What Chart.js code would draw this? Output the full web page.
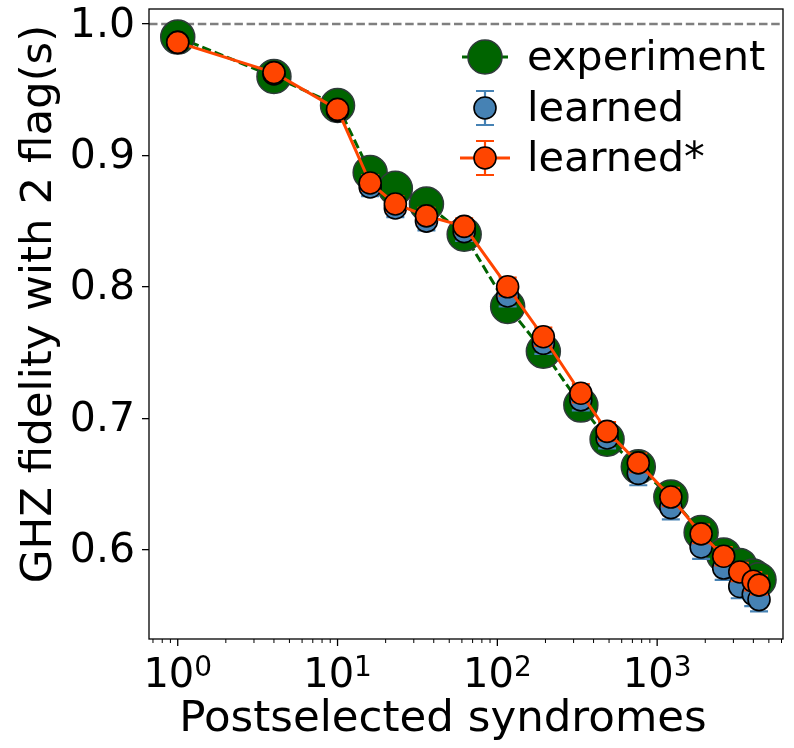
<!DOCTYPE html>
<html>
<head>
<meta charset="utf-8">
<script src="https://cdn.jsdelivr.net/npm/chart.js@4/dist/chart.umd.min.js"></script>
<style>
  html, body { margin: 0; padding: 0; background: #fff; }
  #wrap { width: 794px; height: 748px; }
</style>
</head>
<body>
<div id="wrap"><canvas id="chart" width="794" height="748"></canvas></div>
<script>
// values
const syndromes = [1, 4, 10, 16, 23, 36, 62, 116, 194, 333, 486, 762, 1218, 1884, 2608, 3288, 3992, 4340];
const experiment = [0.990, 0.960, 0.938, 0.887, 0.875, 0.863, 0.840, 0.785, 0.751, 0.710, 0.684, 0.663, 0.640, 0.613, 0.596, 0.588, 0.580, 0.577];
const learned = [0.986, 0.962, 0.934, 0.876, 0.860, 0.850, 0.842, 0.793, 0.757, 0.714, 0.685, 0.658, 0.632, 0.602, 0.586, 0.572, 0.566, 0.562];
const learnedErr = [0.004, 0.004, 0.005, 0.007, 0.007, 0.007, 0.007, 0.008, 0.008, 0.008, 0.008, 0.009, 0.009, 0.009, 0.009, 0.009, 0.009, 0.009];
const learnedStar = [0.986, 0.963, 0.935, 0.879, 0.863, 0.854, 0.846, 0.800, 0.762, 0.719, 0.690, 0.666, 0.640, 0.612, 0.595, 0.583, 0.576, 0.573];
const learnedStarErr = [0.004, 0.004, 0.005, 0.006, 0.006, 0.006, 0.006, 0.007, 0.007, 0.007, 0.007, 0.007, 0.007, 0.007, 0.007, 0.007, 0.007, 0.007];
const yTicks = [0.6, 0.7, 0.8, 0.9, 1.0];
const xDecades = [1, 10, 100, 1000];
const xMin = 0.661, xMax = 6130;
const yMin = 0.532, yMax = 1.0114;
const refLevel = 1.0;

const FONT = 'DejaVu Sans';
const GREEN = '#006400', BLUE = '#4682b4', ORANGE = '#ff4500';

const pts = ys => syndromes.map((x, i) => ({ x: x, y: ys[i] }));

// error bars, drawn just before the markers of their dataset
const errorBars = {
  id: 'errorBars',
  beforeDatasetDraw(chart, args) {
    const ds = chart.data.datasets[args.index];
    if (!ds.errors) return;
    const { ctx, scales: { x, y } } = chart;
    ctx.save();
    ctx.strokeStyle = ds.errorColor;
    ctx.lineWidth = 2.2;
    ds.data.forEach((p, i) => {
      const px = x.getPixelForValue(p.x);
      const lo = y.getPixelForValue(p.y - ds.errors[i]);
      const hi = y.getPixelForValue(p.y + ds.errors[i]);
      ctx.beginPath();
      ctx.moveTo(px, lo); ctx.lineTo(px, hi);
      ctx.moveTo(px - 9, lo); ctx.lineTo(px + 9, lo);
      ctx.moveTo(px - 9, hi); ctx.lineTo(px + 9, hi);
      ctx.stroke();
    });
    ctx.restore();
  }
};

function circle(ctx, x, y, r, fill, stroke, lw) {
  ctx.beginPath();
  ctx.arc(x, y, r, 0, Math.PI * 2);
  ctx.fillStyle = fill; ctx.fill();
  ctx.lineWidth = lw; ctx.strokeStyle = stroke; ctx.stroke();
}

// frame, log ticks with 10^n labels, axis titles, legend
const decorations = {
  id: 'decorations',
  afterDraw(chart) {
    const { ctx, chartArea: a, scales: { x } } = chart;
    ctx.save();
    ctx.strokeStyle = '#000';
    ctx.lineWidth = 1.3;
    ctx.strokeRect(a.left, a.top, a.right - a.left, a.bottom - a.top);

    // x ticks
    for (let d = -1; d <= 3; d++) {
      for (let k = 1; k <= 9; k++) {
        const v = k * Math.pow(10, d);
        if (v < xMin || v > xMax) continue;
        const px = x.getPixelForValue(v);
        ctx.beginPath();
        ctx.lineWidth = k === 1 ? 1.3 : 1;
        ctx.moveTo(px, a.bottom);
        ctx.lineTo(px, a.bottom + (k === 1 ? 7 : 4));
        ctx.stroke();
      }
    }
    ctx.fillStyle = '#000';
    ctx.textBaseline = 'alphabetic';
    ctx.textAlign = 'left';
    xDecades.forEach(v => {
      const px = x.getPixelForValue(v);
      const exp = String(Math.round(Math.log10(v)));
      ctx.font = '40px "' + FONT + '"';
      const w1 = ctx.measureText('10').width;
      ctx.font = '28px "' + FONT + '"';
      const w2 = ctx.measureText(exp).width;
      const x0 = px - (w1 + w2) / 2;
      ctx.font = '40px "' + FONT + '"';
      ctx.fillText('10', x0, 687);
      ctx.font = '28px "' + FONT + '"';
      ctx.fillText(exp, x0 + w1, 676);
    });

    // axis titles
    ctx.font = '43.5px "' + FONT + '"';
    ctx.textAlign = 'center';
    ctx.fillText('Postselected syndromes', 443, 731);
    ctx.save();
    ctx.translate(51, 304);
    ctx.rotate(-Math.PI / 2);
    ctx.fillText('GHZ fidelity with 2 flag(s)', 0, 0);
    ctx.restore();

    // legend
    const mx = a.right - 298;
    const rows = [a.top + 48, a.top + 99, a.top + 149];
    ctx.lineCap = 'butt';
    // experiment
    ctx.setLineDash([9.25, 4]);
    ctx.strokeStyle = GREEN; ctx.lineWidth = 3;
    ctx.beginPath(); ctx.moveTo(mx - 23, rows[0]); ctx.lineTo(mx + 23, rows[0]); ctx.stroke();
    ctx.setLineDash([]);
    circle(ctx, mx, rows[0], 17, GREEN, '#2f3a3a', 1.5);
    // learned
    ctx.strokeStyle = BLUE; ctx.lineWidth = 2.2;
    ctx.beginPath();
    ctx.moveTo(mx, rows[1] - 17); ctx.lineTo(mx, rows[1] + 17);
    ctx.moveTo(mx - 9, rows[1] - 17); ctx.lineTo(mx + 9, rows[1] - 17);
    ctx.moveTo(mx - 9, rows[1] + 17); ctx.lineTo(mx + 9, rows[1] + 17);
    ctx.stroke();
    circle(ctx, mx, rows[1], 11, BLUE, '#000', 1.6);
    // learned*
    ctx.strokeStyle = ORANGE; ctx.lineWidth = 3;
    ctx.beginPath(); ctx.moveTo(mx - 25, rows[2]); ctx.lineTo(mx + 25, rows[2]); ctx.stroke();
    ctx.lineWidth = 2.2;
    ctx.beginPath();
    ctx.moveTo(mx, rows[2] - 17); ctx.lineTo(mx, rows[2] + 17);
    ctx.moveTo(mx - 9, rows[2] - 17); ctx.lineTo(mx + 9, rows[2] - 17);
    ctx.moveTo(mx - 9, rows[2] + 17); ctx.lineTo(mx + 9, rows[2] + 17);
    ctx.stroke();
    circle(ctx, mx, rows[2], 11, ORANGE, '#000', 1.6);

    ctx.fillStyle = '#000';
    ctx.textAlign = 'left';
    ctx.font = '41.5px "' + FONT + '"';
    ['experiment', 'learned', 'learned*'].forEach((t, i) => ctx.fillText(t, a.right - 256, rows[i] + 13));
    ctx.restore();
  }
};

new Chart(document.getElementById('chart'), {
  type: 'scatter',
  data: {
    datasets: [
      { label: 'ref', data: [{ x: xMin, y: refLevel }, { x: xMax, y: refLevel }], showLine: true,
        borderColor: '#7f7f7f', borderWidth: 2.6, borderDash: [8.5, 3.7], pointRadius: 0, order: 4 },
      { label: 'experiment', data: pts(experiment), showLine: true, borderColor: GREEN, borderWidth: 3,
        borderDash: [9.25, 4], pointRadius: 17, pointBackgroundColor: GREEN, pointBorderColor: '#2f3a3a',
        pointBorderWidth: 1.5, order: 3 },
      { label: 'learned', data: pts(learned), showLine: false, errors: learnedErr, errorColor: BLUE,
        pointRadius: 11, pointBackgroundColor: BLUE, pointBorderColor: '#000', pointBorderWidth: 1.6, order: 2 },
      { label: 'learned*', data: pts(learnedStar), showLine: true, borderColor: ORANGE, borderWidth: 3,
        errors: learnedStarErr, errorColor: ORANGE,
        pointRadius: 11, pointBackgroundColor: ORANGE, pointBorderColor: '#000', pointBorderWidth: 1.6, order: 1 }
    ]
  },
  options: {
    responsive: false,
    animation: false,
    events: [],
    layout: { autoPadding: false, padding: { top: 9, right: 11, left: 0, bottom: 0 } },
    plugins: { legend: { display: false }, tooltip: { enabled: false } },
    scales: {
      x: {
        type: 'logarithmic', min: xMin, max: xMax,
        ticks: { display: false }, grid: { display: false }, border: { display: false },
        afterFit: s => { s.height = 109; s.paddingLeft = 0; s.paddingRight = 0; }
      },
      y: {
        min: yMin, max: yMax,
        afterBuildTicks: s => { s.ticks = yTicks.map(v => ({ value: v })); },
        ticks: { color: '#000', font: { family: FONT, size: 41 }, padding: 7, labelOffset: 2,
                 callback: v => v.toFixed(1) },
        grid: { drawOnChartArea: false, tickLength: 7, color: '#000', lineWidth: 1.3 },
        border: { display: false },
        afterFit: s => { s.width = 149; s.paddingTop = 0; s.paddingBottom = 0; }
      }
    }
  },
  plugins: [errorBars, decorations]
});
</script>
</body>
</html>
